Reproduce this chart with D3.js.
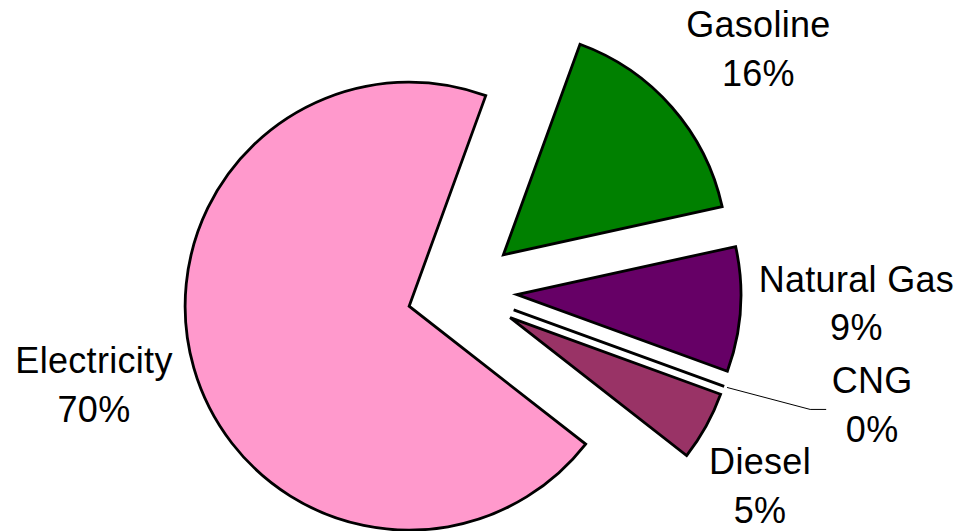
<!DOCTYPE html>
<html>
<head>
<meta charset="utf-8">
<script src="https://cdn.jsdelivr.net/npm/d3@7"></script>
<style>
  html, body { margin: 0; padding: 0; background: #fff; }
  svg { display: block; }
  text { font-family: "Liberation Sans", Arial, sans-serif; font-size: 36px; fill: #000; letter-spacing: 0.3px; }
</style>
</head>
<body>
<svg id="chart" width="962" height="531"></svg>
<script>
// ---- data ----
const categories = ["Gasoline", "Natural Gas", "CNG", "Diesel", "Electricity"];
const values = [16, 9, 0, 5, 70];
const percentLabels = ["16%", "9%", "0%", "5%", "70%"];
const colors = ["#008000", "#660066", "#ffffff", "#993366", "#ff99cc"];

// ---- layout ----
const width = 962, height = 531;
const cx = 462, cy = 291;          // pie centre
const radius = 224;
const explode = 55;
const startDeg = 20;
// label nudges relative to each slice's outer-arc midpoint: [dx, dy of first baseline]
const labelNudge = [[86.5, -70], [116, -17.5], [0, 0], [54, 48], [-99.8, 5.5]];
const lineGap = 48.5;

const svg = d3.select("#chart");
const pie = d3.pie().sort(null).value(d => d)
  .startAngle(startDeg * Math.PI / 180)
  .endAngle(startDeg * Math.PI / 180 + 2 * Math.PI);
const arcs = pie(values);
const arc = d3.arc().innerRadius(0).outerRadius(radius);

const g = svg.append("g").attr("transform", `translate(${cx},${cy})`);

arcs.forEach((a, i) => {
  const mid = (a.startAngle + a.endAngle) / 2;
  const dx = Math.sin(mid) * explode, dy = -Math.cos(mid) * explode;
  const sg = g.append("g").attr("transform", `translate(${dx},${dy})`);
  sg.append("path")
    .attr("d", arc(a))
    .attr("fill", colors[i])
    .attr("stroke", "#000")
    .attr("stroke-width", 2.8)
    .attr("stroke-linejoin", "miter");

  const ox = dx + Math.sin(mid) * radius;
  const oy = dy - Math.cos(mid) * radius;

  if (values[i] === 0) {
    // leader line for the zero slice
    const sx = ox + Math.sin(mid) * 3, sy = oy - Math.cos(mid) * 3;
    const ex = ox + 86, ey = oy + 23;
    g.append("polyline")
      .attr("points", `${sx},${sy} ${ex},${ey} ${ex + 16},${ey}`)
      .attr("fill", "none").attr("stroke", "#000").attr("stroke-width", 1);
    const t = g.append("text").attr("text-anchor", "middle");
    t.append("tspan").attr("x", ox + 148).attr("y", oy + 7).text(categories[i]);
    t.append("tspan").attr("x", ox + 148).attr("y", oy + 7 + lineGap).text(percentLabels[i]);
  } else {
    const lx = ox + labelNudge[i][0], ly = oy + labelNudge[i][1];
    const t = g.append("text").attr("text-anchor", "middle");
    t.append("tspan").attr("x", lx).attr("y", ly).text(categories[i]);
    t.append("tspan").attr("x", lx).attr("y", ly + lineGap).text(percentLabels[i]);
  }
});
</script>
</body>
</html>
